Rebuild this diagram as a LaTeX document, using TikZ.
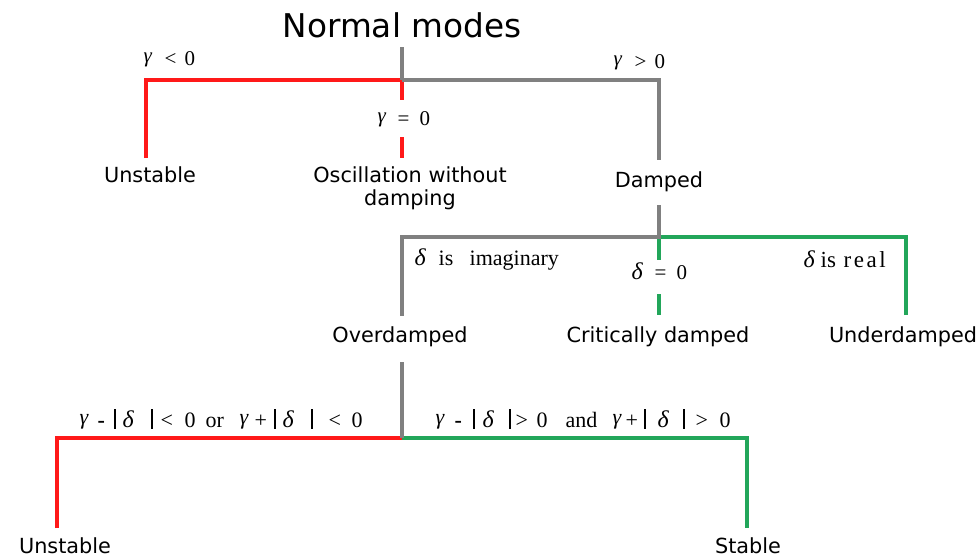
\documentclass[tikz,border=0pt]{standalone}
\usepackage{fontspec}
\setmainfont{DejaVu Sans}
\newfontfamily\lser{Liberation Serif}
\definecolor{cred}{RGB}{255,25,25}
\definecolor{cgreen}{RGB}{34,166,90}
\definecolor{cgray}{RGB}{128,128,128}
\newcommand{\gm}{\raisebox{3pt}{\itshape γ}}
\newcommand{\dl}{{\fontsize{24}{26}\selectfont\itshape δ}}
\newcommand{\pl}[2]{\rlap{\hspace*{#1pt}#2}}
\newcommand{\absbar}{\rule[-1.5pt]{2.4pt}{19.5pt}}
\begin{document}
\begin{tikzpicture}[x=1pt,y=-1pt,
  lbl/.style={font=\fontsize{20.8}{23}\selectfont, inner sep=0, anchor=base, align=center},
  ttl/.style={font=\fontsize{32.7}{36}\selectfont, inner sep=0, anchor=base},
  cond/.style={font=\lser\fontsize{21}{23}\selectfont, inner sep=0, anchor=base west},
  condb/.style={font=\lser\fontsize{22}{24}\selectfont, inner sep=0, anchor=base west},
  redl/.style={draw=cred, line width=4pt},
  grnl/.style={draw=cgreen, line width=4pt},
  gryl/.style={draw=cgray, line width=4pt}]
\useasboundingbox (0,0) rectangle (978,558);
% text
\node[ttl] (nm) at (402,37) {Normal modes};
\node[lbl] (u1) at (150,182) {Unstable};
\node[lbl] (osc) at (410,205) {Oscillation without\\damping};
\node[lbl] (dmp) at (659,187) {Damped};
\node[lbl] (ovd) at (400,342) {Overdamped};
\node[lbl] (crd) at (658,342) {Critically damped};
\node[lbl] (und) at (903,342) {Underdamped};
\node[lbl] (u2) at (65,553) {Unstable};
\node[lbl] (st) at (748,553) {Stable};
% condition labels
\node[cond] (gl) at (143,65) {\pl{0}{\gm}\pl{21}{<}\pl{41}{0}};
\node[cond] (gg) at (613,68) {\pl{0}{\gm}\pl{21}{>}\pl{41}{0}};
\node[cond] (ge) at (377,125) {\pl{0}{\gm}\pl{20}{=}\pl{42}{0}};
\node[cond] (di) at (414,265) {\pl{0}{\dl}\pl{24}{\fontsize{22}{24}\selectfont is}\pl{55}{\fontsize{22}{24}\selectfont imaginary}};
\node[cond] (de) at (631,279) {\pl{0}{\dl}\pl{23}{=}\pl{45}{0}};
\node[cond] (dr) at (803,267) {\pl{0}{\dl}\pl{17}{\fontsize{23}{25}\selectfont is}\pl{40}{\fontsize{23}{25}\selectfont r\hspace{2.5pt}e\hspace{2.5pt}a\hspace{2.5pt}l}};
\node[condb] (cl) at (79,427) {\pl{0}{\gm}\pl{18}{\textbf{-}}\pl{34}{\absbar}\pl{43}{\dl}\pl{71}{\absbar}\pl{81}{<}\pl{105}{0}\pl{126}{or}\pl{160}{\gm}\pl{175}{+}\pl{194}{\absbar}\pl{203}{\dl}\pl{231}{\absbar}\pl{249}{<}\pl{272}{0}};
\node[condb] (cr) at (435,427) {\pl{0}{\gm}\pl{19}{\textbf{-}}\pl{37}{\absbar}\pl{47}{\dl}\pl{73}{\absbar}\pl{80}{>}\pl{101}{0}\pl{130}{and}\pl{177}{\gm}\pl{190}{+}\pl{208}{\absbar}\pl{222}{\dl}\pl{247}{\absbar}\pl{260}{>}\pl{284}{0}};
% junction coordinates
\coordinate (nmb) at (402,47);
\coordinate (j1) at (402,80);
\coordinate (c0) at (146,80);
\coordinate (u1t) at (146,158);
\coordinate (g0a) at (402,100);
\coordinate (g0b) at (402,137);
\coordinate (osct) at (402,158);
\coordinate (c1) at (659,80);
\coordinate (dmpt) at (659,160);
\coordinate (dmpb) at (659,205);
\coordinate (j2) at (659,237);
\coordinate (c2) at (402,237);
\coordinate (ovdt) at (402,316);
\coordinate (c3) at (906,237);
\coordinate (undt) at (906,315);
\coordinate (d0a) at (659,260);
\coordinate (d0b) at (659,294);
\coordinate (crdt) at (659,315);
\coordinate (ovdb) at (402,362);
\coordinate (j3) at (402,438);
\coordinate (c4) at (57,438);
\coordinate (u2t) at (57,528);
\coordinate (c5) at (747,438);
\coordinate (stt) at (747,528);
% connectors
\draw[redl] (u1t) -- (c0) -- (j1) -- (g0a);
\draw[redl] (g0b) -- (osct);
\draw[gryl] (nmb) -- (j1);
\draw[gryl] (j1) -- (c1) -- (dmpt);
\draw[grnl] (undt) -- (c3) -- (j2) -- (d0a);
\draw[grnl] (d0b) -- (crdt);
\draw[gryl] (dmpb) -- (j2) -- (c2) -- (ovdt);
\draw[redl] (u2t) -- (c4) -- (j3);
\draw[grnl] (j3) -- (c5) -- (stt);
\draw[gryl] (ovdb) -- (j3);
\end{tikzpicture}
\end{document}
